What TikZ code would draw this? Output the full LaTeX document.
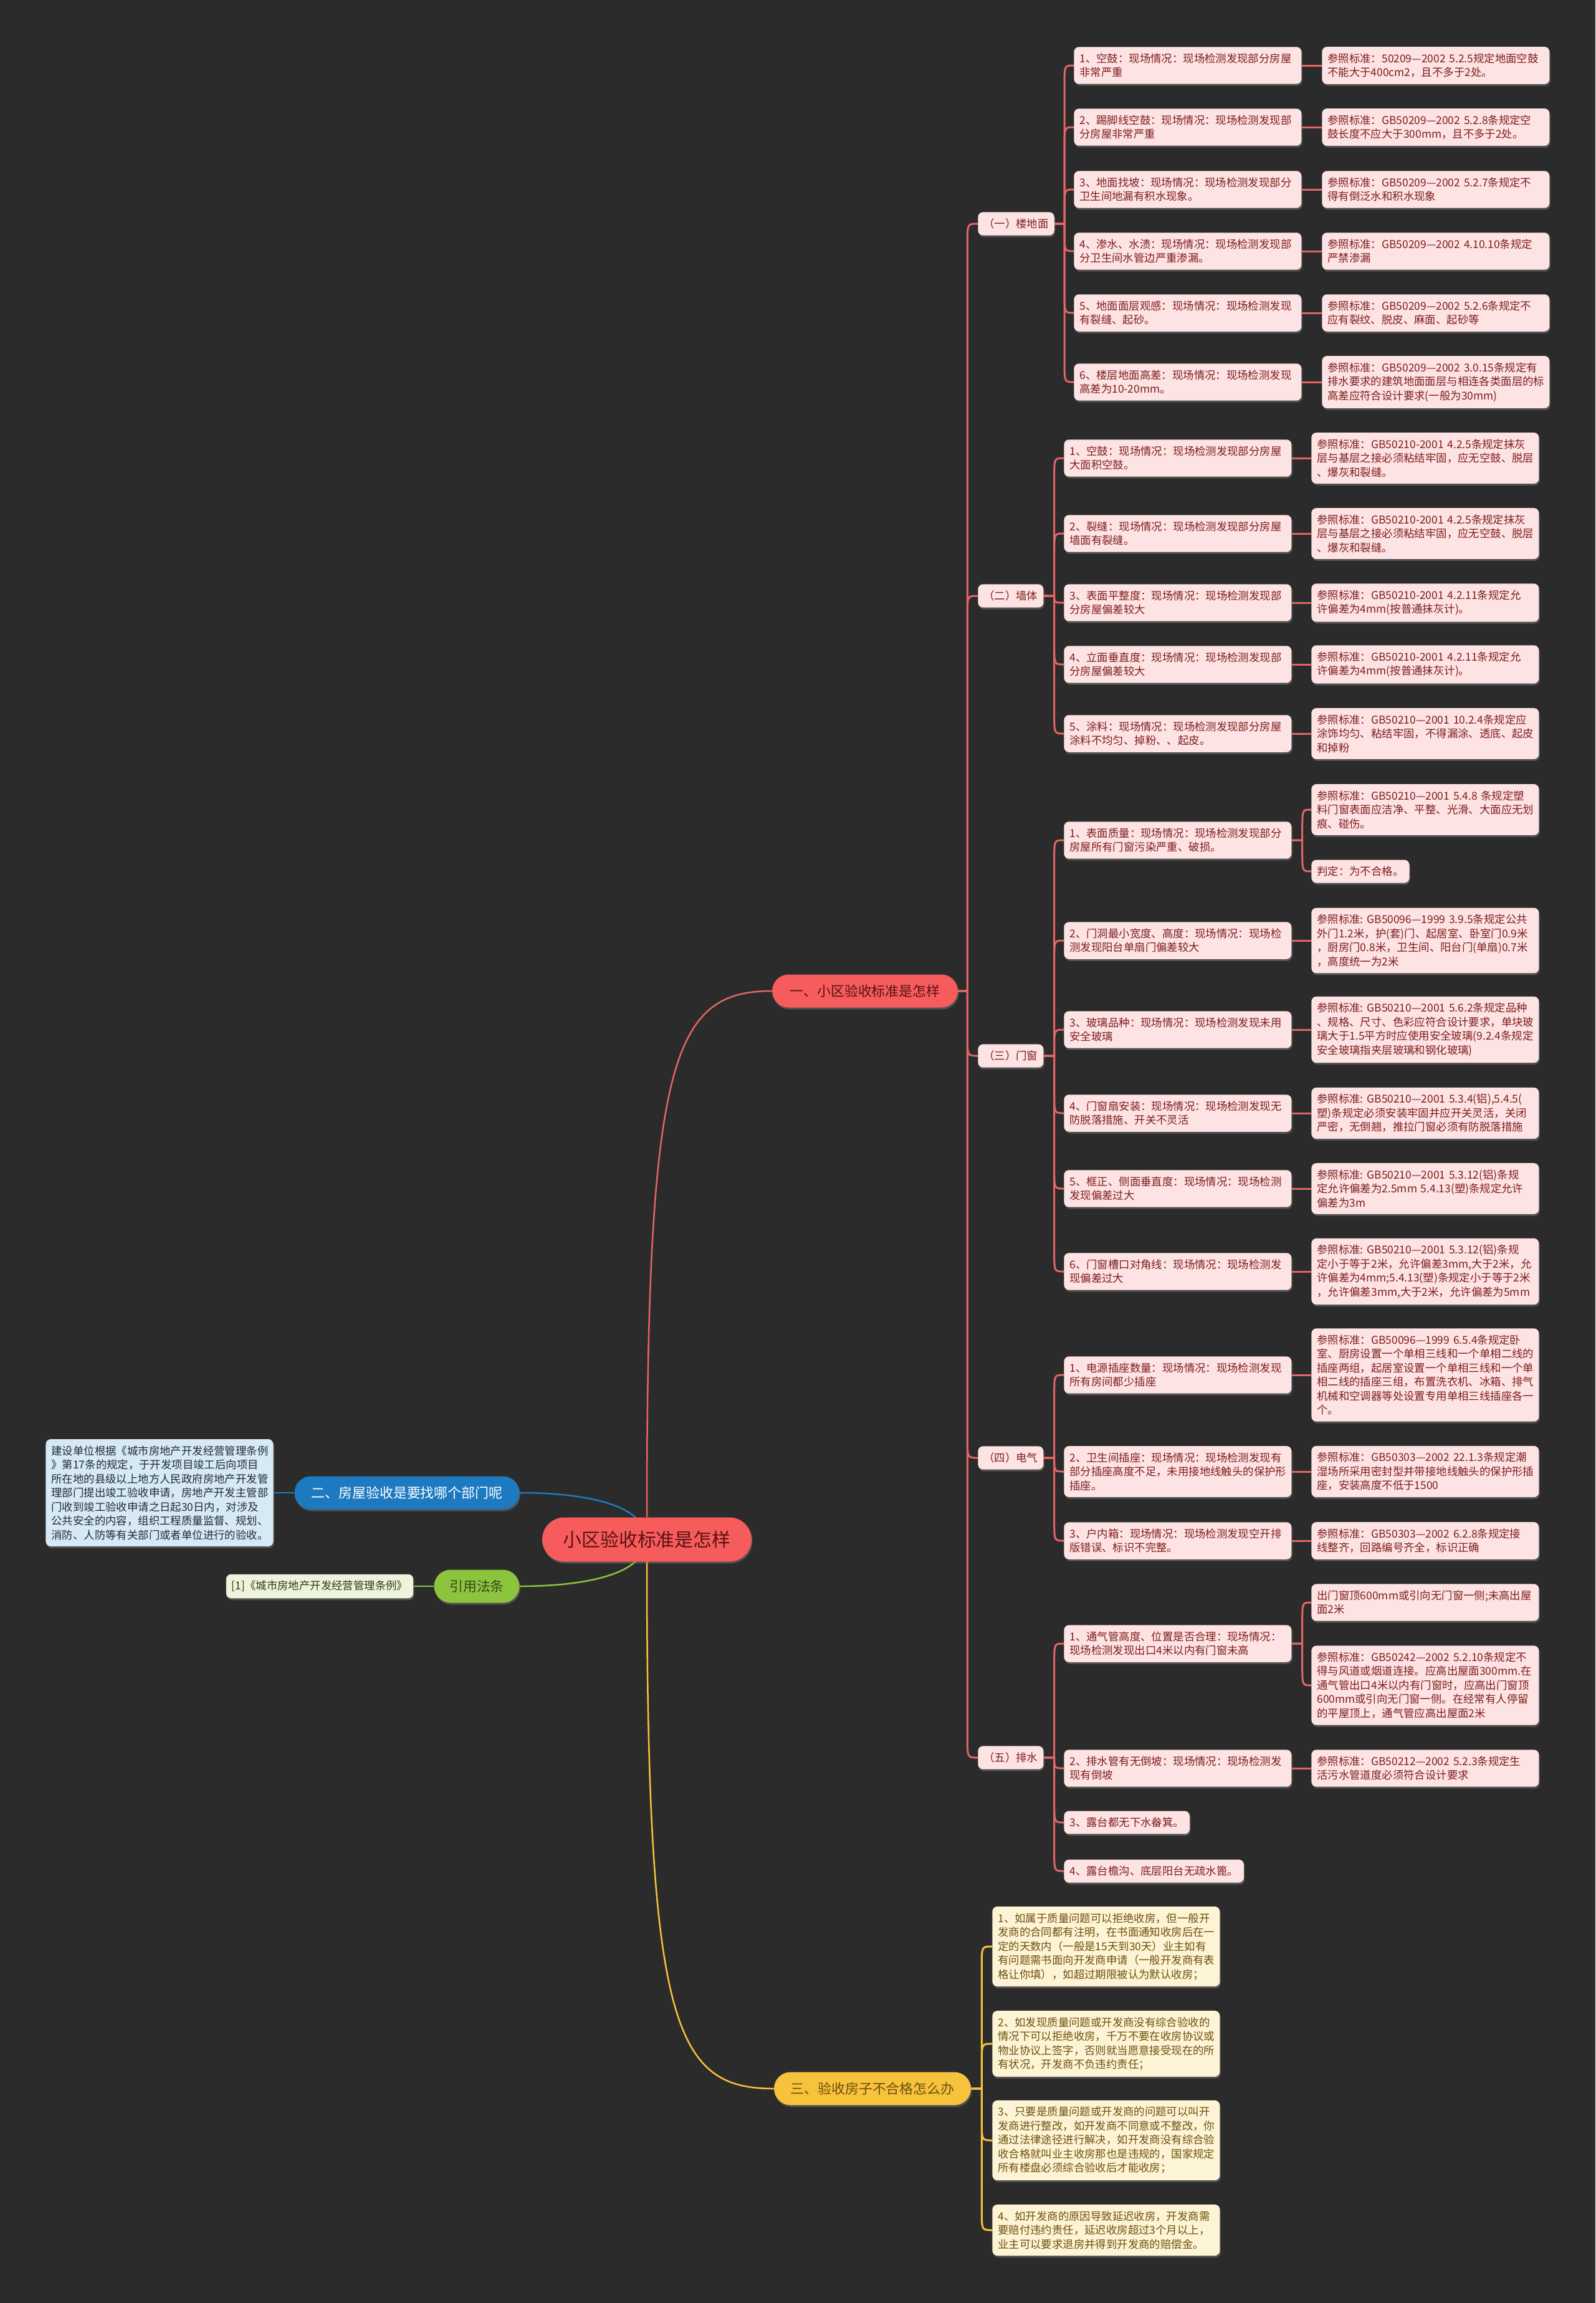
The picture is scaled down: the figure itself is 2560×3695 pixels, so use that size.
\documentclass[tikz,border=0pt]{standalone}
\usepackage{fontspec}
\setmainfont{Noto Sans CJK SC}
\usetikzlibrary{positioning, calc, backgrounds, shadows}

\definecolor{bgDark}{HTML}{2B2B2B}
\definecolor{redLine}{HTML}{E36565}
\definecolor{redMain}{HTML}{F65C5C}
\definecolor{pinkFill}{HTML}{FDE3E3}
\definecolor{pinkText}{HTML}{7F1D1D}
\definecolor{oneText}{HTML}{5A1212}
\definecolor{blueMain}{HTML}{1D7AC1}
\definecolor{blueFill}{HTML}{D8E9F6}
\definecolor{noteText}{HTML}{1E2B38}
\definecolor{greenMain}{HTML}{8CC43E}
\definecolor{greenFill}{HTML}{EEF4DC}
\definecolor{lawText}{HTML}{3A4A1A}
\definecolor{yelMain}{HTML}{F7C23C}
\definecolor{yelFill}{HTML}{FDF4D6}
\definecolor{yelText}{HTML}{6E500C}

\tikzset{
  boxbase/.style={font=\fontsize{9.9}{12.8}\selectfont, align=left,
    rounded corners=1.6mm, inner xsep=1.8mm, inner ysep=5.9pt,
    drop shadow={shadow xshift=0.3mm, shadow yshift=-0.6mm, opacity=0.45}},
  pinkbox/.style={boxbase, fill=pinkFill, text=pinkText},
  yelbox/.style={boxbase, fill=yelFill, text=yelText},
  widebox/.style={text width=69.4mm},
  mainbox/.style={font=\fontsize{12.5}{15}\selectfont, minimum height=10.6mm,
    rounded corners=5.3mm, inner sep=0pt,
    drop shadow={shadow xshift=0.3mm, shadow yshift=-0.6mm, opacity=0.45}},
  redL/.style={draw=redLine, line width=0.6mm},
  yelL/.style={draw=yelMain, line width=0.6mm},
  branchto/.style={to path={let \p1=(\tikztostart), \p2=(\tikztotarget),
    \n1={(\y2>\y1) ? 1 : -1}, \n2={min(30*0.2mm, abs(\y2-\y1))} in
    -- (\x1+#1*0.2mm,\y1) -- (\x1+#1*0.2mm,\y2-\n1*\n2)
    .. controls (\x1+#1*0.2mm,\y2) .. (\p2)}}
}

\begin{document}
\begin{tikzpicture}[x=0.2mm, y=-0.2mm]
\useasboundingbox (0,0) rectangle (2560,3695);
\begin{scope}[on background layer]
  \fill[bgDark] (0,0) rectangle (2560,3695);
\end{scope}

% centre and main topics
\node[mainbox, font=\fontsize{17}{20}\selectfont, fill=redMain, text=oneText,
      minimum width=67.2mm, minimum height=14.2mm, rounded corners=7.1mm] (root) at (1038,2470) {小区验收标准是怎样};
\node[mainbox, fill=redMain, text=oneText, minimum width=59.6mm] (one) at (1388,1590) {一、小区验收标准是怎样};
\node[mainbox, fill=blueMain, text=white, minimum width=72.2mm] (two) at (653,2395) {二、房屋验收是要找哪个部门呢};
\node[mainbox, fill=greenMain, text=lawText, minimum width=27.4mm] (law) at (765,2545) {引用法条};
\node[mainbox, fill=yelMain, text=yelText, minimum width=63.2mm] (three) at (1400,3351) {三、验收房子不合格怎么办};

\node[boxbase, widebox, fill=blueFill, text=noteText] (note) at (256,2395)
  {建设单位根据《城市房地产开发经营管理条例\\》第17条的规定，于开发项目竣工后向项目\\所在地的县级以上地方人民政府房地产开发管\\理部门提出竣工验收申请，房地产开发主管部\\门收到竣工验收申请之日起30日内，对涉及\\公共安全的内容，组织工程质量监督、规划、\\消防、人防等有关部门或者单位进行的验收。};
\node[boxbase, fill=greenFill, text=lawText!80!black] (cite) at (513,2545) {[1]《城市房地产开发经营管理条例》};

% categories
\node[pinkbox, anchor=west] (floor) at (1569,359) {（一）楼地面};
\node[pinkbox, anchor=west] (wall) at (1569,956) {（二）墙体};
\node[pinkbox, anchor=west] (door) at (1569,1694) {（三）门窗};
\node[pinkbox, anchor=west] (elec) at (1569,2339) {（四）电气};
\node[pinkbox, anchor=west] (drain) at (1569,2820) {（五）排水};

% (一) 楼地面
\node[pinkbox, widebox, anchor=west] (fl1) at (1723,105) {1、空鼓：现场情况：现场检测发现部分房屋\\非常严重};
\node[pinkbox, widebox, anchor=west] (ref-fl1) at (2121,105) {参照标准：50209—2002~5.2.5规定地面空鼓\\不能大于400cm2，且不多于2处。};
\node[pinkbox, widebox, anchor=west] (fl2) at (1723,204) {2、踢脚线空鼓：现场情况：现场检测发现部\\分房屋非常严重};
\node[pinkbox, widebox, anchor=west] (ref-fl2) at (2121,204) {参照标准：GB50209—2002~5.2.8条规定空\\鼓长度不应大于300mm，且不多于2处。};
\node[pinkbox, widebox, anchor=west] (fl3) at (1723,304) {3、地面找坡：现场情况：现场检测发现部分\\卫生间地漏有积水现象。};
\node[pinkbox, widebox, anchor=west] (ref-fl3) at (2121,304) {参照标准：GB50209—2002~5.2.7条规定不\\得有倒泛水和积水现象};
\node[pinkbox, widebox, anchor=west] (fl4) at (1723,403) {4、渗水、水渍：现场情况：现场检测发现部\\分卫生间水管边严重渗漏。};
\node[pinkbox, widebox, anchor=west] (ref-fl4) at (2121,403) {参照标准：GB50209—2002~4.10.10条规定\\严禁渗漏};
\node[pinkbox, widebox, anchor=west] (fl5) at (1723,502) {5、地面面层观感：现场情况：现场检测发现\\有裂缝、起砂。};
\node[pinkbox, widebox, anchor=west] (ref-fl5) at (2121,502) {参照标准：GB50209—2002~5.2.6条规定不\\应有裂纹、脱皮、麻面、起砂等};
\node[pinkbox, widebox, anchor=west] (fl6) at (1723,613) {6、楼层地面高差：现场情况：现场检测发现\\高差为10-20mm。};
\node[pinkbox, widebox, anchor=west] (ref-fl6) at (2121,613) {参照标准：GB50209—2002~3.0.15条规定有\\排水要求的建筑地面面层与相连各类面层的标\\高差应符合设计要求(一般为30mm)};

% (二) 墙体
\node[pinkbox, widebox, anchor=west] (wl1) at (1707,735) {1、空鼓：现场情况：现场检测发现部分房屋\\大面积空鼓。};
\node[pinkbox, widebox, anchor=west] (ref-wl1) at (2104,735) {参照标准：GB50210-2001~4.2.5条规定抹灰\\层与基层之接必须粘结牢固，应无空鼓、脱层\\、爆灰和裂缝。};
\node[pinkbox, widebox, anchor=west] (wl2) at (1707,856) {2、裂缝：现场情况：现场检测发现部分房屋\\墙面有裂缝。};
\node[pinkbox, widebox, anchor=west] (ref-wl2) at (2104,856) {参照标准：GB50210-2001~4.2.5条规定抹灰\\层与基层之接必须粘结牢固，应无空鼓、脱层\\、爆灰和裂缝。};
\node[pinkbox, widebox, anchor=west] (wl3) at (1707,967) {3、表面平整度：现场情况：现场检测发现部\\分房屋偏差较大};
\node[pinkbox, widebox, anchor=west] (ref-wl3) at (2104,967) {参照标准：GB50210-2001~4.2.11条规定允\\许偏差为4mm(按普通抹灰计)。};
\node[pinkbox, widebox, anchor=west] (wl4) at (1707,1066) {4、立面垂直度：现场情况：现场检测发现部\\分房屋偏差较大};
\node[pinkbox, widebox, anchor=west] (ref-wl4) at (2104,1066) {参照标准：GB50210-2001~4.2.11条规定允\\许偏差为4mm(按普通抹灰计)。};
\node[pinkbox, widebox, anchor=west] (wl5) at (1707,1177) {5、涂料：现场情况：现场检测发现部分房屋\\涂料不均匀、掉粉、、起皮。};
\node[pinkbox, widebox, anchor=west] (ref-wl5) at (2104,1177) {参照标准：GB50210—2001~10.2.4条规定应\\涂饰均匀、粘结牢固，不得漏涂、透底、起皮\\和掉粉};

% (三) 门窗
\node[pinkbox, widebox, anchor=west] (dr1) at (1707,1348) {1、表面质量：现场情况：现场检测发现部分\\房屋所有门窗污染严重、破损。};
\node[pinkbox, widebox, anchor=west] (ref-dr1a) at (2104,1299) {参照标准：GB50210—2001~5.4.8~条规定塑\\料门窗表面应洁净、平整、光滑、大面应无划\\痕、碰伤。};
\node[pinkbox, anchor=west] (ref-dr1b) at (2104,1398) {判定：为不合格。};
\node[pinkbox, widebox, anchor=west] (dr2) at (1707,1509) {2、门洞最小宽度、高度：现场情况：现场检\\测发现阳台单扇门偏差较大};
\node[pinkbox, widebox, anchor=west] (ref-dr2) at (2104,1509) {参照标准:~GB50096—1999~3.9.5条规定公共\\外门1.2米，护(套)门、起居室、卧室门0.9米\\，厨房门0.8米，卫生间、阳台门(单扇)0.7米\\，高度统一为2米};
\node[pinkbox, widebox, anchor=west] (dr3) at (1707,1652) {3、玻璃品种：现场情况：现场检测发现未用\\安全玻璃};
\node[pinkbox, widebox, anchor=west] (ref-dr3) at (2104,1652) {参照标准:~GB50210—2001~5.6.2条规定品种\\、规格、尺寸、色彩应符合设计要求，单块玻\\璃大于1.5平方时应使用安全玻璃(9.2.4条规定\\安全玻璃指夹层玻璃和钢化玻璃)};
\node[pinkbox, widebox, anchor=west] (dr4) at (1707,1786) {4、门窗扇安装：现场情况：现场检测发现无\\防脱落措施、开关不灵活};
\node[pinkbox, widebox, anchor=west] (ref-dr4) at (2104,1786) {参照标准:~GB50210—2001~5.3.4(铝),5.4.5(\\塑)条规定必须安装牢固并应开关灵活，关闭\\严密，无倒翘，推拉门窗必须有防脱落措施};
\node[pinkbox, widebox, anchor=west] (dr5) at (1707,1907) {5、框正、侧面垂直度：现场情况：现场检测\\发现偏差过大};
\node[pinkbox, widebox, anchor=west] (ref-dr5) at (2104,1907) {参照标准:~GB50210—2001~5.3.12(铝)条规\\定允许偏差为2.5mm~5.4.13(塑)条规定允许\\偏差为3m};
\node[pinkbox, widebox, anchor=west] (dr6) at (1707,2040) {6、门窗槽口对角线：现场情况：现场检测发\\现偏差过大};
\node[pinkbox, widebox, anchor=west] (ref-dr6) at (2104,2040) {参照标准:~GB50210—2001~5.3.12(铝)条规\\定小于等于2米，允许偏差3mm,大于2米，允\\许偏差为4mm;5.4.13(塑)条规定小于等于2米\\，允许偏差3mm,大于2米，允许偏差为5mm};

% (四) 电气
\node[pinkbox, widebox, anchor=west] (el1) at (1707,2206) {1、电源插座数量：现场情况：现场检测发现\\所有房间都少插座};
\node[pinkbox, widebox, anchor=west] (ref-el1) at (2104,2206) {参照标准：GB50096—1999~6.5.4条规定卧\\室、厨房设置一个单相三线和一个单相二线的\\插座两组，起居室设置一个单相三线和一个单\\相二线的插座三组，布置洗衣机、冰箱、排气\\机械和空调器等处设置专用单相三线插座各一\\个。};
\node[pinkbox, widebox, anchor=west] (el2) at (1707,2361) {2、卫生间插座：现场情况：现场检测发现有\\部分插座高度不足，未用接地线触头的保护形\\插座。};
\node[pinkbox, widebox, anchor=west] (ref-el2) at (2104,2361) {参照标准：GB50303—2002~22.1.3条规定潮\\湿场所采用密封型并带接地线触头的保护形插\\座，安装高度不低于1500};
\node[pinkbox, widebox, anchor=west] (el3) at (1707,2472) {3、户内箱：现场情况：现场检测发现空开排\\版错误、标识不完整。};
\node[pinkbox, widebox, anchor=west] (ref-el3) at (2104,2472) {参照标准：GB50303—2002~6.2.8条规定接\\线整齐，回路编号齐全，标识正确};

% (五) 排水
\node[pinkbox, widebox, anchor=west] (dn1) at (1707,2637) {1、通气管高度、位置是否合理：现场情况：\\现场检测发现出口4米以内有门窗未高};
\node[pinkbox, widebox, anchor=west] (ref-dn1a) at (2104,2571) {出门窗顶600mm或引向无门窗一侧;未高出屋\\面2米};
\node[pinkbox, widebox, anchor=west] (ref-dn1b) at (2104,2704) {参照标准：GB50242—2002~5.2.10条规定不\\得与风道或烟道连接。应高出屋面300mm.在\\通气管出口4米以内有门窗时，应高出门窗顶\\600mm或引向无门窗一侧。在经常有人停留\\的平屋顶上，通气管应高出屋面2米};
\node[pinkbox, widebox, anchor=west] (dn2) at (1707,2837) {2、排水管有无倒坡：现场情况：现场检测发\\现有倒坡};
\node[pinkbox, widebox, anchor=west] (ref-dn2) at (2104,2837) {参照标准：GB50212—2002~5.2.3条规定生\\活污水管道度必须符合设计要求};
\node[pinkbox, anchor=west] (dn3) at (1707,2924) {3、露台都无下水畚箕。};
\node[pinkbox, anchor=west] (dn4) at (1707,3002) {4、露台檐沟、底层阳台无疏水篦。};

% 三、验收房子不合格怎么办
\node[yelbox, widebox, anchor=west] (q1) at (1592,3123) {1、如属于质量问题可以拒绝收房，但一般开\\发商的合同都有注明，在书面通知收房后在一\\定的天数内（一般是15天到30天）业主如有\\有问题需书面向开发商申请（一般开发商有表\\格让你填），如超过期限被认为默认收房；};
\node[yelbox, widebox, anchor=west] (q2) at (1592,3279) {2、如发现质量问题或开发商没有综合验收的\\情况下可以拒绝收房，千万不要在收房协议或\\物业协议上签字，否则就当愿意接受现在的所\\有状况，开发商不负违约责任；};
\node[yelbox, widebox, anchor=west] (q3) at (1592,3434) {3、只要是质量问题或开发商的问题可以叫开\\发商进行整改，如开发商不同意或不整改，你\\通过法律途径进行解决，如开发商没有综合验\\收合格就叫业主收房那也是违规的，国家规定\\所有楼盘必须综合验收后才能收房；};
\node[yelbox, widebox, anchor=west] (q4) at (1592,3578) {4、如开发商的原因导致延迟收房，开发商需\\要赔付违约责任，延迟收房超过3个月以上，\\业主可以要求退房并得到开发商的赔偿金。};

% connectors
\begin{scope}[on background layer]
  \draw[redLine, line width=0.5mm] (root.north) .. controls ($(root.north)+(0,-735)$) and ($(one.west)+(-160,0)$) .. (one.west);
  \draw[yelMain, line width=0.5mm] (root.south) .. controls ($(root.south)+(0,745)$) and ($(three.west)+(-160,0)$) .. (three.west);
  \draw[blueMain, line width=0.5mm] (two.east) .. controls ($(two.east)+(90,0)$) and ($(root.north)+(-40,-25)$) .. ($(root.north)+(-14,5)$);
  \draw[greenMain, line width=0.5mm] (law.east) .. controls ($(law.east)+(90,0)$) and ($(root.south)+(-40,25)$) .. ($(root.south)+(-14,-5)$);
  \draw[blueMain, line width=0.5mm] (two.west) -- (note.east);
  \draw[greenMain, line width=0.5mm] (law.west) -- (cite.east);

  \foreach \c in {floor,wall,door,elec,drain}
    \draw[redL] (one.east) to[branchto=15] (\c.west);
  \foreach \i in {1,...,6} {
    \draw[redL] (floor.east) to[branchto=16] (fl\i.west);
    \draw[redL] (fl\i.east) -- (ref-fl\i.west);
  }
  \foreach \i in {1,...,5} {
    \draw[redL] (wall.east) to[branchto=17] (wl\i.west);
    \draw[redL] (wl\i.east) -- (ref-wl\i.west);
  }
  \foreach \i in {1,...,6}
    \draw[redL] (door.east) to[branchto=17] (dr\i.west);
  \foreach \i in {2,...,6}
    \draw[redL] (dr\i.east) -- (ref-dr\i.west);
  \draw[redL] (dr1.east) to[branchto=17] (ref-dr1a.west);
  \draw[redL] (dr1.east) to[branchto=17] (ref-dr1b.west);
  \foreach \i in {1,...,3} {
    \draw[redL] (elec.east) to[branchto=17] (el\i.west);
    \draw[redL] (el\i.east) -- (ref-el\i.west);
  }
  \foreach \i in {1,...,4}
    \draw[redL] (drain.east) to[branchto=17] (dn\i.west);
  \draw[redL] (dn1.east) to[branchto=17] (ref-dn1a.west);
  \draw[redL] (dn1.east) to[branchto=17] (ref-dn1b.west);
  \draw[redL] (dn2.east) -- (ref-dn2.west);
  \foreach \i in {1,...,4}
    \draw[yelL] (three.east) to[branchto=17] (q\i.west);
\end{scope}
\end{tikzpicture}
\end{document}
